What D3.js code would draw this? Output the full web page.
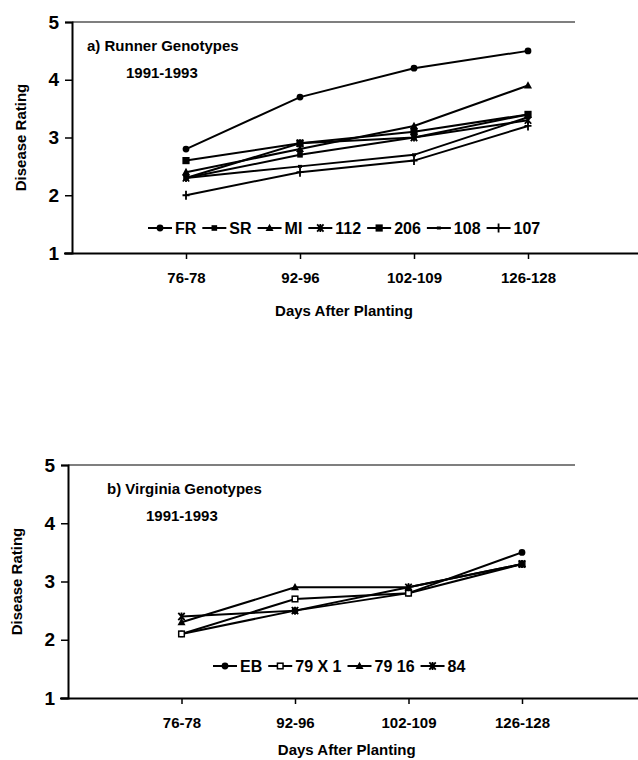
<!DOCTYPE html>
<html><head><meta charset="utf-8">
<script src="https://cdn.jsdelivr.net/npm/d3@7"></script>
<style>body{margin:0;background:#fff}svg{display:block}text{font-family:"Liberation Sans",Arial,sans-serif;fill:#000}</style>
</head><body><svg id="c" width="638" height="760"></svg>
<script>
const categories = ["76-78","92-96","102-109","126-128"];
const yTicks = [1,2,3,4,5];
const runnerNames = ["FR","SR","MI","112","206","108","107"];
const runnerMarkers = ["circle","smallsquare","triangle","x","square","dash","plus"];
const FR = [2.8,3.7,4.2,4.5];
const SR = [2.3,2.7,3.0,3.4];
const MI = [2.4,2.8,3.2,3.9];
const G112 = [2.3,2.9,3.0,3.3];
const G206 = [2.6,2.9,3.1,3.4];
const G108 = [2.3,2.5,2.7,3.35];
const G107 = [2.0,2.4,2.6,3.2];
const virginiaNames = ["EB","79 X 1","79 16","84"];
const virginiaMarkers = ["circle","opensquare","triangle","x"];
const EB = [2.1,2.5,2.8,3.5];
const V79X1 = [2.1,2.7,2.8,3.3];
const V7916 = [2.3,2.9,2.9,3.3];
const V84 = [2.4,2.5,2.9,3.3];

const svg = d3.select("#c");

function marker(g, type, x, y){
  const s = g.append("g").attr("transform",`translate(${x},${y})`);
  if(type==="circle") s.append("circle").attr("r",3.4).attr("fill","#000");
  else if(type==="smallsquare") s.append("rect").attr("x",-2.8).attr("y",-2.8).attr("width",5.6).attr("height",5.6).attr("fill","#000");
  else if(type==="square") s.append("rect").attr("x",-3.6).attr("y",-3.6).attr("width",7.2).attr("height",7.2).attr("fill","#000");
  else if(type==="opensquare") s.append("rect").attr("x",-2.8).attr("y",-2.8).attr("width",5.6).attr("height",5.6).attr("fill","#fff").attr("stroke","#000").attr("stroke-width",1.5);
  else if(type==="triangle") s.append("path").attr("d","M0,-4.3L4,3L-4,3Z").attr("fill","#000");
  else if(type==="x") s.append("path").attr("d","M-3.2,-3.6L3.2,3.6M3.2,-3.6L-3.2,3.6M0,-4V4").attr("stroke","#000").attr("stroke-width",1.8);
  else if(type==="plus") s.append("path").attr("d","M0,-4.5V4.5M-3.5,0H3.5").attr("stroke","#000").attr("stroke-width",1.8);
  else if(type==="dash") s.append("path").attr("d","M-2,0H2").attr("stroke","#000").attr("stroke-width",3);
}

function panel(o){
  const g = svg.append("g");
  const x = d3.scalePoint().domain(["", ...categories, " "]).range([o.left, o.left + 114*5*o.sx]);
  const y = d3.scaleLinear().domain([1,5]).range([o.bottom, o.top]);
  g.append("line").attr("x1",o.left).attr("x2",575).attr("y1",o.top).attr("y2",o.top).attr("stroke","#000").attr("stroke-width",1.2);
  const ya = g.append("g").attr("transform",`translate(${o.left},0)`)
    .call(d3.axisLeft(y).tickValues(yTicks).tickFormat(d3.format("d")).tickSize(7).tickPadding(6));
  ya.select(".domain").attr("stroke-width",2);
  ya.selectAll(".tick line").attr("stroke-width",1.5);
  ya.selectAll("text").style("font-size","19px").style("font-weight","900");
  const xa = g.append("g").attr("transform",`translate(0,${o.bottom})`)
    .call(d3.axisBottom(x).tickValues(categories).tickSize(6).tickPadding(13).tickSizeOuter(0));
  xa.select(".domain").attr("d",`M${o.left-8},0.5H638`).attr("stroke-width",2);
  xa.selectAll(".tick line").attr("stroke-width",1.5);
  xa.selectAll("text").style("font-size","15px").style("font-weight","bold");
  g.append("text").attr("transform",`translate(${o.ytx},${(o.top+o.bottom)/2}) rotate(-90)`)
    .attr("text-anchor","middle").attr("dominant-baseline","middle").style("font-size","15px").style("font-weight","bold").text("Disease Rating");
  g.append("text").attr("x",x(categories[1])+(x(categories[2])-x(categories[1]))/2 - o.tshift).attr("y",o.xty)
    .attr("text-anchor","middle").style("font-size","15px").style("font-weight","bold").text("Days After Planting");
  g.append("text").attr("x",o.lx).attr("y",o.ly).style("font-size","15px").style("font-weight","bold").text(o.title);
  g.append("text").attr("x",o.lx+39).attr("y",o.ly+27).style("font-size","15px").style("font-weight","bold").text("1991-1993");
  const line = d3.line().x((d,i)=>x(categories[i])).y(d=>y(d));
  o.series.forEach((s,k)=>{
    g.append("path").attr("d",line(s)).attr("fill","none").attr("stroke","#000").attr("stroke-width",2);
  });
  o.series.forEach((s,k)=>{
    s.forEach((v,i)=>marker(g,o.markers[k],x(categories[i]),y(v)));
  });
  let lxp = o.legX;
  o.names.forEach((n,k)=>{
    const lg = g.append("g");
    lg.append("line").attr("x1",lxp).attr("x2",lxp+24).attr("y1",o.legY).attr("y2",o.legY).attr("stroke","#000").attr("stroke-width",2);
    marker(lg,o.markers[k],lxp+12,o.legY);
    const t = lg.append("text").attr("x",lxp+27).attr("y",o.legY).attr("dominant-baseline","central")
      .style("font-size","16px").style("font-weight","bold").text(n);
    lxp += 27 + t.node().getComputedTextLength() + 6;
  });
}

panel({left:72, top:22, bottom:253, sx:1, ytx:22, xty:316, tshift:13, lx:87, ly:51,
  title:"a) Runner Genotypes", series:[FR,SR,MI,G112,G206,G108,G107], markers:runnerMarkers, names:runnerNames, legX:148, legY:228});
panel({left:68, top:465, bottom:698, sx:113.5/114, ytx:18, xty:755, tshift:5, lx:107, ly:494,
  title:"b) Virginia Genotypes", series:[EB,V79X1,V7916,V84], markers:virginiaMarkers, names:virginiaNames, legX:213, legY:666});
</script></body></html>
